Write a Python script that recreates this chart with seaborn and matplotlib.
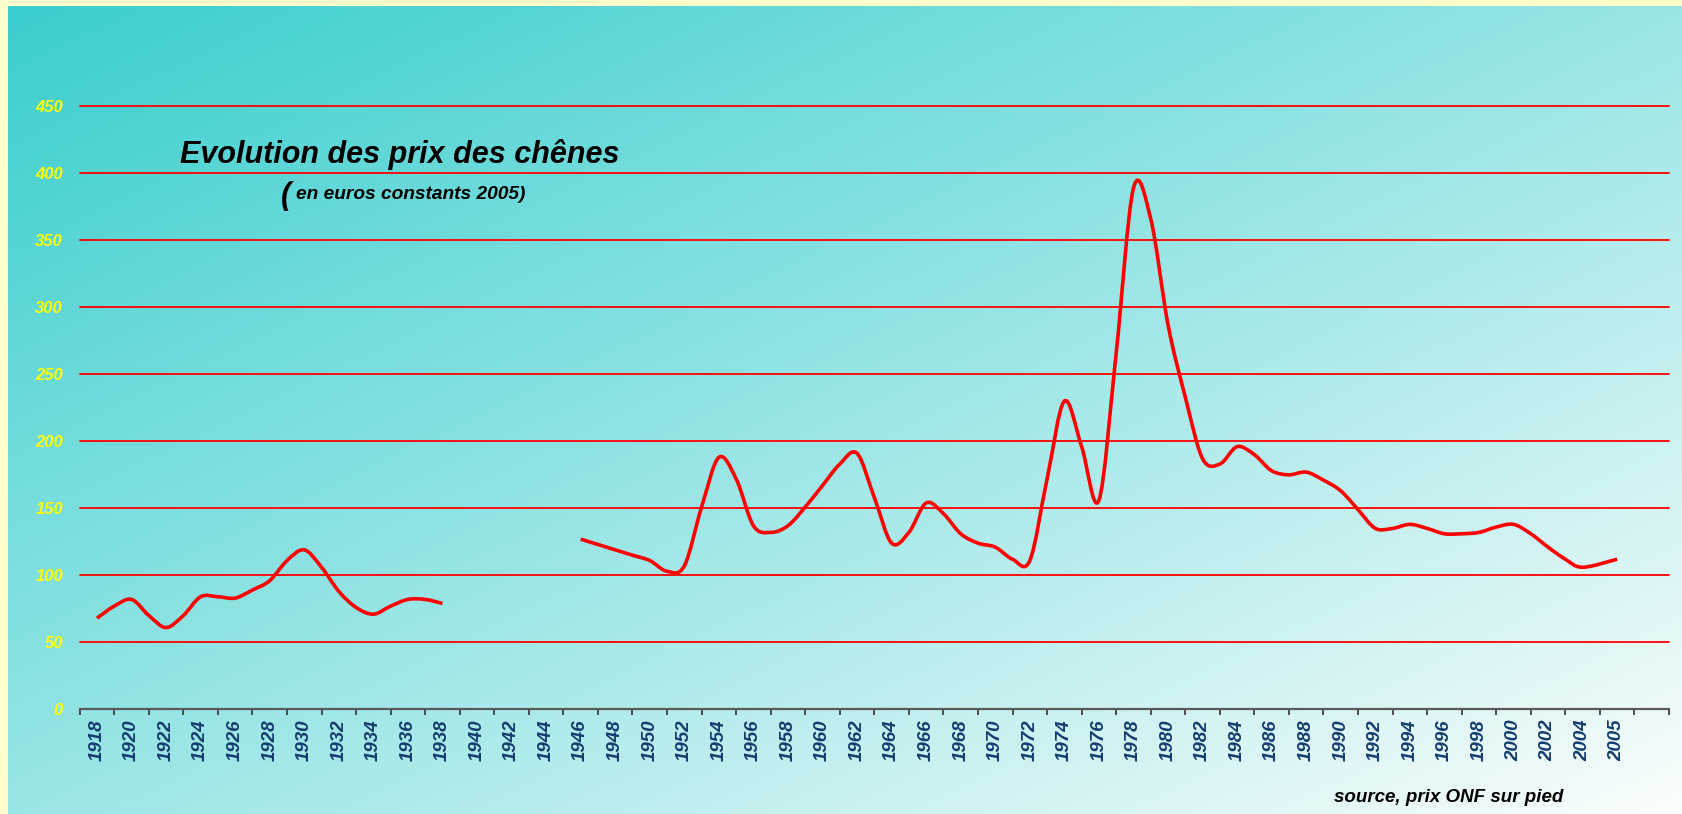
import numpy as np
import pandas as pd
import matplotlib
matplotlib.use("Agg")
import matplotlib.pyplot as plt
from matplotlib.path import Path
from matplotlib.patches import PathPatch
import seaborn as sns

# prix des chênes (euros constants 2005)
annees_1 = list(range(1918, 1939))
prix_1 = [68, 77, 82, 70, 61, 70, 84, 84, 83, 89, 96, 111, 119, 106, 88, 76, 71, 77, 82, 82, 79]

annees_2 = list(range(1946, 2006))
prix_2 = [127, 123, 119, 115, 111, 103, 107, 151, 188, 172,
          137, 132, 137, 151, 167, 183, 191, 158, 124, 132,
          154, 146, 131, 124, 121, 112, 111, 172, 230, 196,
          156, 266, 389, 366, 287, 233, 187, 183, 196, 190,
          178, 175, 177, 171, 163, 149, 135, 135, 138, 135,
          131, 131, 132, 136, 138, 131, 121, 112, 106, 112]

# axe des catégories : une tous les deux ans, puis 2005 et une case vide
etiquettes = [str(a) for a in range(1918, 2005, 2)] + ["2005", ""]
graduations_y = [0, 50, 100, 150, 200, 250, 300, 350, 400, 450]


def position(annee):
    # rang de l'année sur l'axe des catégories
    if annee <= 2004:
        return (annee - 1918) / 2
    return etiquettes.index(str(annee))


df = pd.concat([
    pd.DataFrame({"annee": annees_1, "prix": prix_1, "segment": 1}),
    pd.DataFrame({"annee": annees_2, "prix": prix_2, "segment": 2}),
], ignore_index=True)
df["pos"] = df["annee"].apply(position)


def courbe_lissee(x, y):
    # ligne lissée façon Excel (Bézier cubique, type Catmull-Rom)
    p = np.column_stack([x, y]).astype(float)
    p_ext = np.vstack([p[0], p, p[-1]])
    verts = [p[0]]
    codes = [Path.MOVETO]
    for i in range(len(p) - 1):
        a, b, c, d = p_ext[i], p_ext[i + 1], p_ext[i + 2], p_ext[i + 3]
        verts += [b + (c - a) / 6, c - (d - b) / 6, c]
        codes += [Path.CURVE4] * 3
    return Path(verts, codes)


sns.set_theme(style="white")
plt.rcParams['font.family'] = ['Liberation Sans', 'DejaVu Sans']

W, H = 1683, 814
fig = plt.figure(figsize=(W / 100, H / 100), dpi=100)
fig.patch.set_facecolor('#FFFFCC')

# fond dégradé (diagonale haut-gauche -> bas-droite)
bg = fig.add_axes([8 / W, 0, 1 - 8 / W, 1 - 6 / H], zorder=-5)
u = np.linspace(0, 1, 400)[None, :]
v = np.linspace(0, 1, 200)[:, None]
t = (u + v) / 2
c0 = np.array([58, 206, 206]) / 255
c1 = np.array([250, 253, 253]) / 255
img = c0[None, None, :] + (c1 - c0)[None, None, :] * t[:, :, None]
bg.imshow(img, aspect='auto', extent=[0, 1, 0, 1], interpolation='bilinear')
bg.axis('off')

ax_left = 79.7 / W
ax_right = 1669 / W
ax_bottom = (H - 709.3) / H
ax_top = (H - 106.3) / H
ax = fig.add_axes([ax_left, ax_bottom, ax_right - ax_left, ax_top - ax_bottom])
ax.set_facecolor('none')

for seg, d in df.groupby("segment"):
    ax.add_patch(PathPatch(courbe_lissee(d["pos"], d["prix"]), fill=False,
                           edgecolor='#FF0000', linewidth=2.6, zorder=5,
                           capstyle='butt', joinstyle='round'))

ax.set_xlim(-0.5, len(etiquettes) - 0.5)
ax.set_ylim(0, 450)
ax.set_xlabel("")
ax.set_ylabel("")

# quadrillage rouge
for val in graduations_y[1:]:
    ax.axhline(val, color='#FF0000', linewidth=1.3, zorder=2, clip_on=False)

sns.despine(ax=ax, left=True)
ax.spines['bottom'].set_color('#5A5A5A')
ax.spines['bottom'].set_linewidth(1.6)
ax.spines['bottom'].set_zorder(6)

ax.set_xticks(range(len(etiquettes)))
ax.set_xticklabels(etiquettes, rotation=90, fontsize=13.5, fontweight='bold',
                   fontstyle='italic', color='#143C6E')
ax.set_xticks(np.arange(-0.5, len(etiquettes), 1), minor=True)
ax.tick_params(axis='x', which='major', length=0, pad=7)
ax.tick_params(axis='x', which='minor', length=4, width=1.2, color='#333333',
               direction='out', bottom=True)

ax.set_yticks(graduations_y)
ax.set_yticklabels([str(g) for g in graduations_y], fontsize=12, fontweight='bold',
                   fontstyle='italic', color='#FFFF00')
ax.tick_params(axis='y', length=0, pad=12)

# titres
fig.text(180 / W, 1 - 163 / H, "Evolution des prix des chênes", fontsize=22,
         fontweight='bold', fontstyle='italic', color='black', va='baseline')
fig.text(281 / W, 1 - 204 / H, "(", fontsize=22, fontweight='bold',
         fontstyle='italic', color='black', va='baseline')
fig.text(296 / W, 1 - 199 / H, "en euros constants 2005)", fontsize=13.8,
         fontweight='bold', fontstyle='italic', color='black', va='baseline')
fig.text(1334 / W, 1 - 801.7 / H, "source, prix ONF sur pied", fontsize=13.5,
         fontweight='bold', fontstyle='italic', color='black', va='baseline')

plt.savefig("out.png", dpi=100, facecolor=fig.get_facecolor())
